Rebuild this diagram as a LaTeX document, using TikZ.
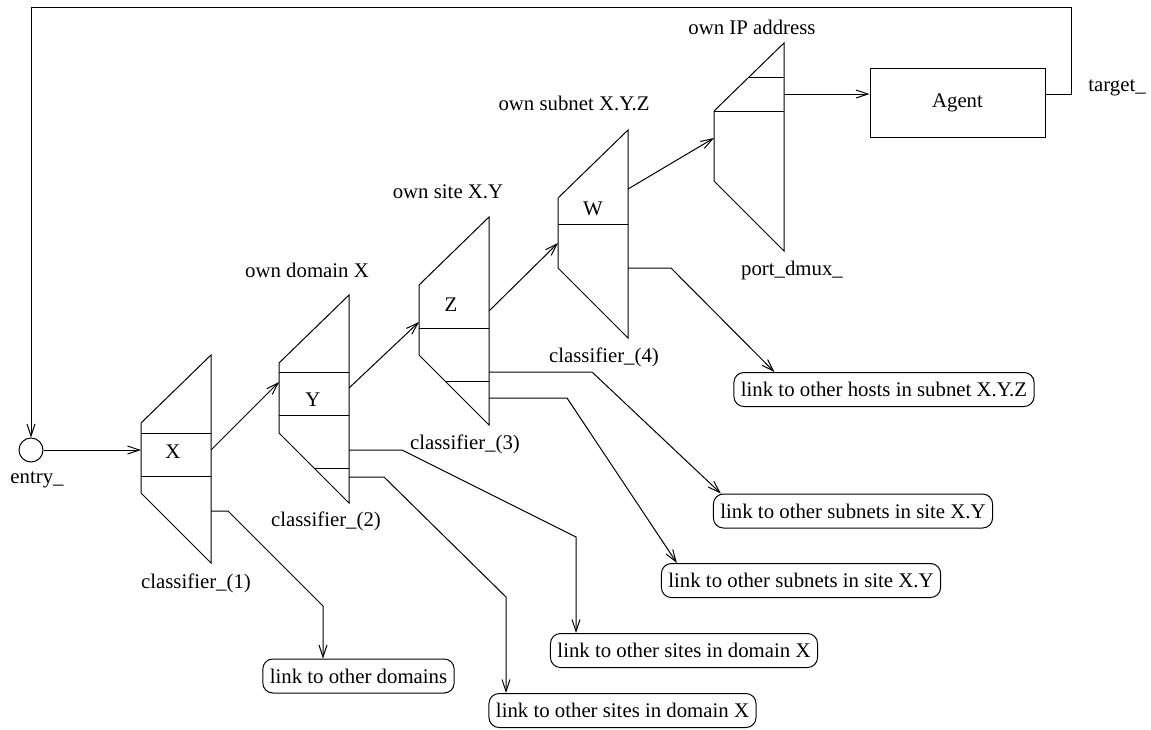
\documentclass[tikz,border=0pt]{standalone}
\usepackage{fontspec}
\setmainfont{Liberation Serif}
\usetikzlibrary{arrows.meta}

\begin{document}
\begin{tikzpicture}[x=0.5pt,y=-0.5pt,line width=0.5pt,
    every node/.style={font=\fontsize{10.4}{12}\selectfont},
    arr/.style={-{Straight Barb[length=6pt,width=4pt]}},
    linkbox/.style={draw,rounded corners=5pt,inner xsep=3.5pt,inner ysep=0pt,minimum height=17pt}]
    \useasboundingbox (0,0) rectangle (1151,729);

    % entry point
    \node[draw,circle,inner sep=0pt,minimum size=12pt] (entry) at (31,450) {};
    \node (entrylbl) at (37,480) {entry\_};

    % classifier_(1)
    \begin{scope}[shift={(141,423)}]
        \draw (0,0) -- (70,-68) -- (70,140) -- (0,70) -- cycle;
        \draw (0,10) -- (70,10);
        \draw (0,53) -- (70,53);
        \node (X) at (32,29) {X};
        \coordinate (c1in) at (0,27);
        \coordinate (c1out) at (70,27);
        \coordinate (c1low) at (70,88);
    \end{scope}
    \node (cl1) at (196,583) {classifier\_(1)};

    % classifier_(2)
    \begin{scope}[shift={(279,363)}]
        \draw (0,0) -- (70,-68) -- (70,140) -- (0,70) -- cycle;
        \draw (0,9) -- (70,9);
        \draw (0,52) -- (70,52);
        \draw (35,105) -- (70,105);
        \node (Y) at (34,37) {Y};
        \coordinate (c2in) at (0,19);
        \coordinate (c2out) at (70,25);
        \coordinate (c2lowa) at (70,87);
        \coordinate (c2lowb) at (70,114);
    \end{scope}
    \node (cl2) at (326,521) {classifier\_(2)};
    \node (owndomain) at (307,270) {own domain X};

    % classifier_(3)
    \begin{scope}[shift={(419,285)}]
        \draw (0,0) -- (70,-68) -- (70,140) -- (0,70) -- cycle;
        \draw (0,43) -- (70,43);
        \draw (26,96) -- (70,96);
        \node (Z) at (32,20) {Z};
        \coordinate (c3in) at (0,37);
        \coordinate (c3out) at (70,26);
        \coordinate (c3lowa) at (70,87);
        \coordinate (c3lowb) at (70,113);
    \end{scope}
    \node (cl3) at (465,444) {classifier\_(3)};
    \node (ownsite) at (448,192) {own site X.Y};

    % classifier_(4)
    \begin{scope}[shift={(558,198)}]
        \draw (0,0) -- (70,-68) -- (70,140) -- (0,70) -- cycle;
        \draw (0,26) -- (70,26);
        \node (W) at (35,11) {W};
        \coordinate (c4in) at (0,45);
        \coordinate (c4out) at (70,-9);
        \coordinate (c4low) at (70,70);
    \end{scope}
    \node (cl4) at (604,357) {classifier\_(4)};
    \node (ownsubnet) at (574,103) {own subnet X.Y.Z};

    % port_dmux_
    \begin{scope}[shift={(714,111)}]
        \draw (0,0) -- (70,-68) -- (70,140) -- (0,70) -- cycle;
        \draw (34,-34) -- (70,-34);
        \draw (0,0) -- (70,0);
        \coordinate (dmuxin) at (0,27);
        \coordinate (dmuxout) at (70,-17);
    \end{scope}
    \node (dmuxlbl) at (792,270) {port\_dmux\_};
    \node (ownip) at (752,27) {own IP address};

    \node[draw,minimum width=87.5pt,minimum height=34.5pt] (agent) at (957.5,102.5) {Agent};
    \node (target) at (1117,88) {target\_};

    % link boxes
    \node[linkbox] (domains) at (358.5,676) {link to other domains};
    \node[linkbox] (sitesA) at (684,650.5) {link to other sites in domain X};
    \node[linkbox] (sitesB) at (622.5,710.5) {link to other sites in domain X};
    \node[linkbox] (subnetsB) at (801,580.5) {link to other subnets in site X.Y};
    \node[linkbox] (subnetsA) at (853,511) {link to other subnets in site X.Y};
    \node[linkbox] (hosts) at (884,389.5) {link to other hosts in subnet X.Y.Z};

    % main chain
    \draw[arr] (entry) -- (c1in);
    \draw[arr] (c1out) -- (c2in);
    \draw[arr] (c2out) -- (c3in);
    \draw[arr] (c3out) -- (c4in);
    \draw[arr] (c4out) -- (dmuxin);
    \draw[arr] (dmuxout) -- (dmuxout -| agent.west);
    \draw[arr] (dmuxout -| agent.east) -- ++(26,0) -- ++(0,-87) -| (entry.north);

    % other exits
    \draw[arr] (c1low) -- ++(17,0) -- (323,606) coordinate (b1) -- (b1 |- domains.north);
    \draw[arr] (c2lowa) -- ++(53,0) -- (576,537) coordinate (b2) -- (b2 |- sitesA.north);
    \draw[arr] (c2lowb) -- ++(35,0) -- (506,597) coordinate (b3) -- (b3 |- sitesB.north);
    \draw[arr] (c3lowa) -- ++(103,0) -- ([xshift=4pt]subnetsA.north west);
    \draw[arr] (c3lowb) -- ++(78,0) -- ([xshift=8pt]subnetsB.north west);
    \draw[arr] (c4low) -- ++(43,0) -- ([xshift=20.5pt]hosts.north west);
\end{tikzpicture}
\end{document}
